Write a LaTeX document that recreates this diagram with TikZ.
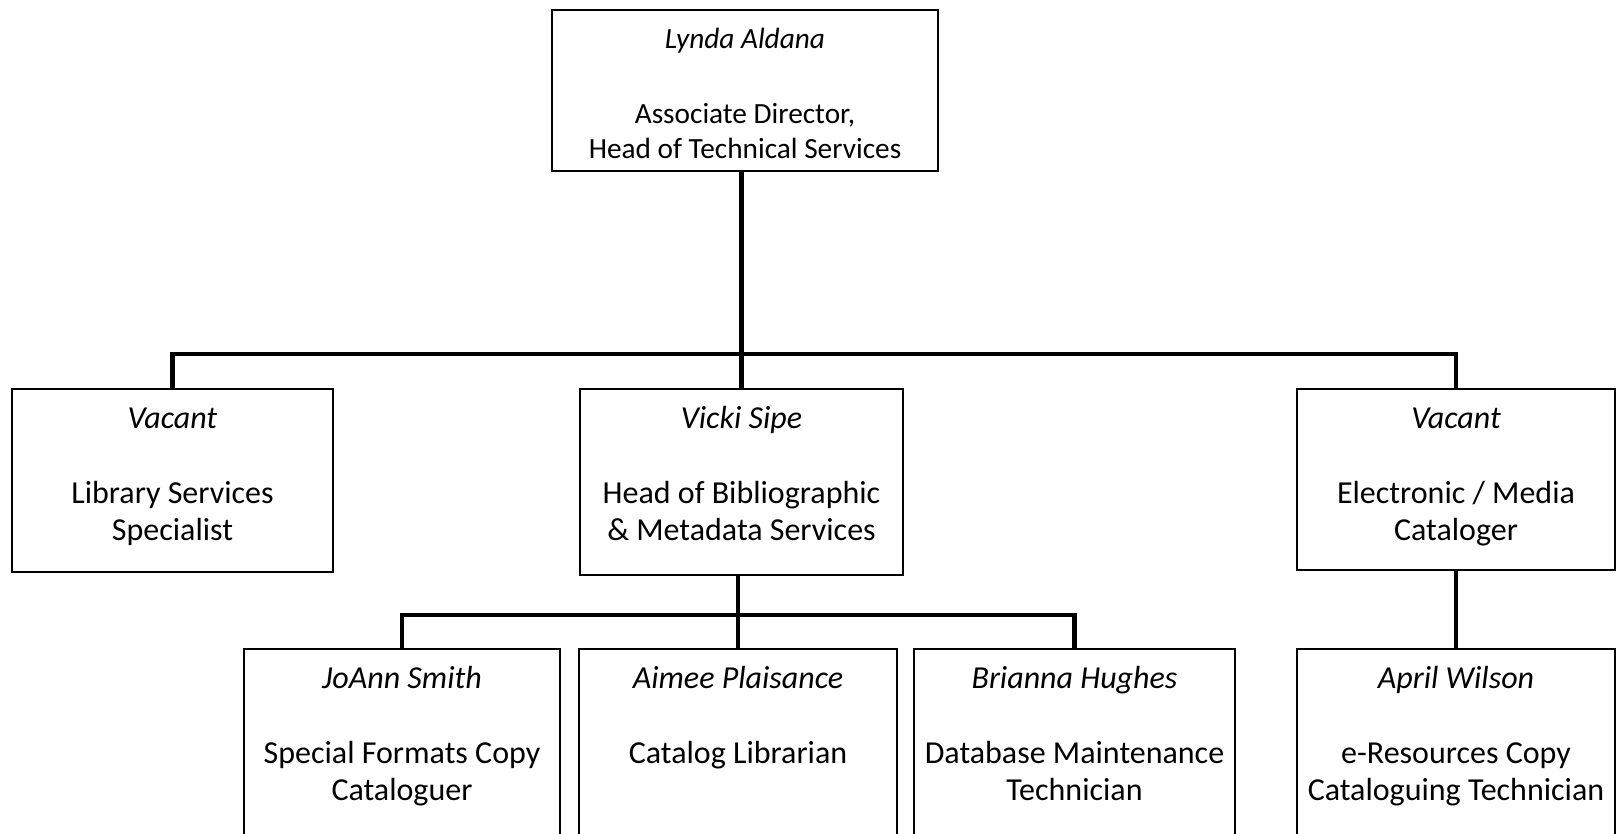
\documentclass[tikz,border=0pt]{standalone}
\usepackage{fontspec}
\setmainfont{Carlito}
\newcommand\orgtxt[4][38pt]{\begin{tabular}[t]{@{}c@{}}\textit{#2}\\[#1]#3\\#4\end{tabular}}
\begin{document}
\begin{tikzpicture}[x=1pt,y=-1pt,
  box/.style={draw=black, line width=1.8pt, rectangle, inner sep=0pt, outer sep=0pt, anchor=north west},
  conn/.style={draw=black, line width=4.2pt, line join=miter},
  txt/.style={inner sep=0pt, anchor=base, font=\fontsize{32}{37}\selectfont},
  txttop/.style={inner sep=0pt, anchor=base, font=\fontsize{29.3}{35}\selectfont}]
\useasboundingbox (0,0) rectangle (1616,833);
% boxes
\node[box, minimum width=386pt, minimum height=161pt] (top) at (552,10) {};
\node[box, minimum width=321pt, minimum height=183pt] (lss) at (12,389) {};
\node[box, minimum width=323pt, minimum height=186pt] (vicki) at (580,389) {};
\node[box, minimum width=318pt, minimum height=181pt] (ecm) at (1297,389) {};
\node[box, minimum width=316pt, minimum height=250pt] (joann) at (244,649) {};
\node[box, minimum width=318pt, minimum height=250pt] (aimee) at (579,649) {};
\node[box, minimum width=321pt, minimum height=250pt] (brianna) at (914,649) {};
\node[box, minimum width=318pt, minimum height=250pt] (april) at (1297,649) {};
% texts
\node[txttop] (topt) at ([yshift=-38pt]top.north) {\orgtxt[40pt]{Lynda Aldana}{Associate Director,}{Head of Technical Services}};
\node[txt] (lsst) at ([yshift=-39pt]lss.north) {\orgtxt{Vacant}{Library Services}{Specialist}};
\node[txt] (vickit) at ([yshift=-39pt]vicki.north) {\orgtxt{Vicki Sipe}{Head of Bibliographic}{\& Metadata Services}};
\node[txt] (ecmt) at ([yshift=-39pt]ecm.north) {\orgtxt{Vacant}{Electronic / Media}{Cataloger}};
\node[txt] (joannt) at ([yshift=-39pt]joann.north) {\orgtxt{JoAnn Smith}{Special Formats Copy}{Cataloguer}};
\node[txt] (aimeet) at ([yshift=-39pt]aimee.north) {\orgtxt{Aimee Plaisance}{Catalog Librarian}{}};
\node[txt] (briannat) at ([yshift=-39pt]brianna.north) {\orgtxt{Brianna Hughes}{Database Maintenance}{Technician}};
\node[txt] (aprilt) at ([yshift=-39pt]april.north) {\orgtxt{April Wilson}{e-Resources Copy}{Cataloguing Technician}};
% connectors
\draw[conn] (top.south -| vicki.north) -- (vicki.north);
\draw[conn] (lss.north) -- ++(0,-35) -| (ecm.north);
\draw[conn] (joann.north) -- ++(0,-34) -| (brianna.north);
\draw[conn] (vicki.south -| aimee.north) -- (aimee.north);
\draw[conn] (ecm.south) -- (april.north);
\end{tikzpicture}
\end{document}
